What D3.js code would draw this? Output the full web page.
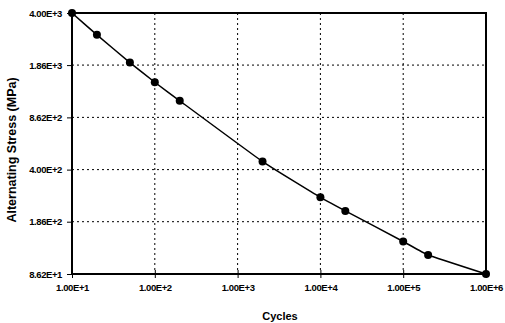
<!DOCTYPE html>
<html>
<head>
<meta charset="utf-8">
<script src="https://cdn.jsdelivr.net/npm/d3@7"></script>
<style>
  body { margin: 0; background: #fff; }
  svg { font-family: "Liberation Sans", Arial, sans-serif; }
</style>
</head>
<body>
<div id="chart"></div>
<script>
// S-N curve data
const cycles = [10, 20, 50, 100, 200, 2000, 10000, 20000, 100000, 200000, 1000000];
const stress = [4000, 2900, 1930, 1445, 1100, 450, 266, 218, 139, 114, 86.2];
const xTicks = [1e1, 1e2, 1e3, 1e4, 1e5, 1e6];
const xTickLabels = ["1.00E+1", "1.00E+2", "1.00E+3", "1.00E+4", "1.00E+5", "1.00E+6"];
const yTicks = [86.2, 186, 400, 862, 1860, 4000];
const yTickLabels = ["8.62E+1", "1.86E+2", "4.00E+2", "8.62E+2", "1.86E+3", "4.00E+3"];

const width = 505, height = 323;
const margin = { top: 13, right: 19, bottom: 49, left: 72 };

const svg = d3.select('#chart')
  .append('svg')
  .attr('width', width)
  .attr('height', height);

const x = d3.scaleLog()
  .domain([1e1, 1e6])
  .range([margin.left, width - margin.right]);

const y = d3.scaleLog()
  .domain([86.2, 4000])
  .range([height - margin.bottom, margin.top]);

// gridlines
svg.append('g')
  .selectAll('line')
  .data(yTicks.slice(1, -1))
  .enter()
  .append('line')
  .attr('x1', margin.left).attr('x2', width - margin.right)
  .attr('y1', d => y(d)).attr('y2', d => y(d))
  .attr('stroke', '#000').attr('stroke-width', 1)
  .attr('stroke-dasharray', '2,3');

svg.append('g')
  .selectAll('line')
  .data(xTicks.slice(1, -1))
  .enter()
  .append('line')
  .attr('y1', margin.top).attr('y2', height - margin.bottom)
  .attr('x1', d => x(d)).attr('x2', d => x(d))
  .attr('stroke', '#000').attr('stroke-width', 1)
  .attr('stroke-dasharray', '2,3');

// frame
svg.append('rect')
  .attr('x', margin.left).attr('y', margin.top)
  .attr('width', width - margin.left - margin.right)
  .attr('height', height - margin.top - margin.bottom)
  .attr('fill', 'none')
  .attr('stroke', '#000').attr('stroke-width', 2);

// axes
const xAxis = d3.axisBottom(x)
  .tickValues(xTicks)
  .tickFormat((d, i) => xTickLabels[i])
  .tickSize(4)
  .tickPadding(6);

const gx = svg.append('g')
  .attr('transform', `translate(0,${height - margin.bottom})`)
  .call(xAxis);
gx.select('.domain').remove();
gx.selectAll('.tick line').attr('y1', -4).attr('stroke-width', 1);
gx.selectAll('text')
  .attr('font-size', 9.5)
  .attr('font-weight', 'bold')
  .attr('fill', '#000')
  .attr('letter-spacing', '-0.4');

const yAxis = d3.axisLeft(y)
  .tickValues(yTicks)
  .tickFormat((d, i) => yTickLabels[i])
  .tickSize(5)
  .tickPadding(5);

const gy = svg.append('g')
  .attr('transform', `translate(${margin.left},0)`)
  .call(yAxis);
gy.select('.domain').remove();
gy.selectAll('text')
  .attr('font-size', 9.5)
  .attr('font-weight', 'bold')
  .attr('fill', '#000')
  .attr('letter-spacing', '-0.4');

// curve
const pts = cycles.map((c, i) => [x(c), y(stress[i])]);
const line = d3.line().curve(d3.curveCardinal.tension(0.7));

svg.append('path')
  .attr('d', line(pts))
  .attr('fill', 'none')
  .attr('stroke', '#000')
  .attr('stroke-width', 1.5);

svg.append('g')
  .selectAll('circle')
  .data(pts)
  .enter()
  .append('circle')
  .attr('cx', d => d[0])
  .attr('cy', d => d[1])
  .attr('r', 4)
  .attr('fill', '#000');

// titles
svg.append('text')
  .attr('x', 280).attr('y', 320)
  .attr('text-anchor', 'middle')
  .attr('font-size', 11)
  .attr('font-weight', 'bold')
  .text('Cycles');

svg.append('text')
  .attr('transform', 'translate(16,150) rotate(-90)')
  .attr('text-anchor', 'middle')
  .attr('font-size', 12.5)
  .attr('font-weight', 'bold')
  .text('Alternating Stress (MPa)');
</script>
</body>
</html>
